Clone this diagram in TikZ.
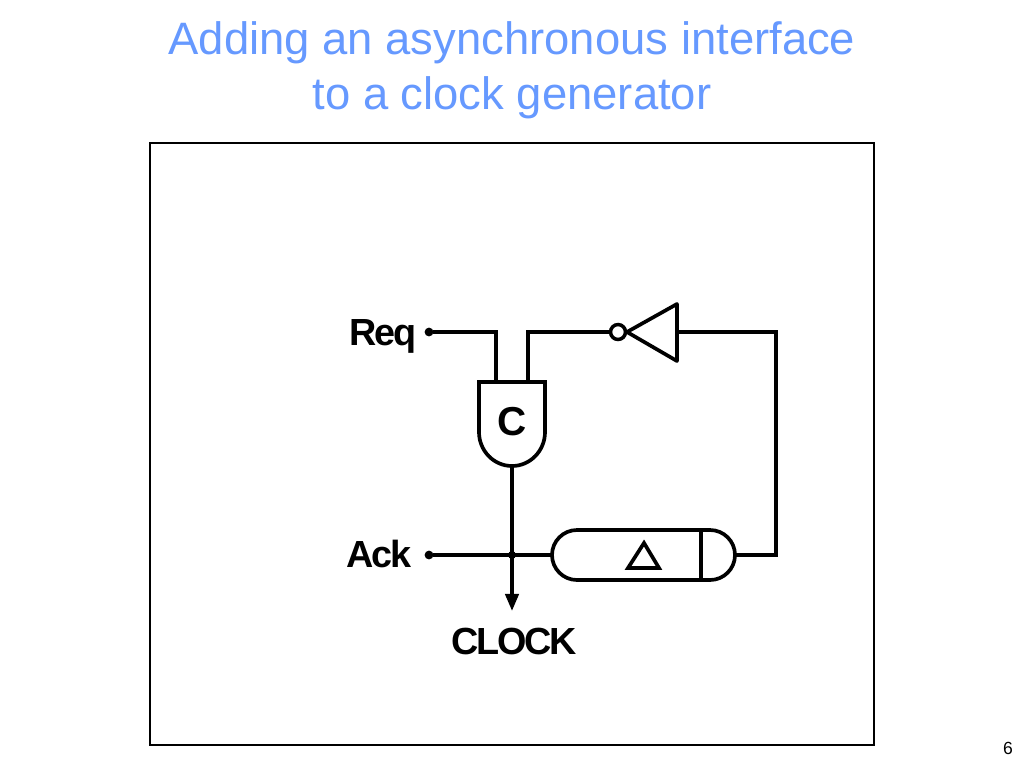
\documentclass[tikz,border=0pt]{standalone}
\usepackage{fontspec}
\setmainfont{Liberation Sans}
\newfontfamily\labelfamily[LetterSpace=-6]{Liberation Sans}
\usepackage{xcolor}
\usetikzlibrary{arrows.meta}
\definecolor{titleblue}{RGB}{102,153,255}
\tikzset{
	wire/.style={line width=2.1pt, line join=miter},
	pin/.style={circle, fill=black, inner sep=0pt, outer sep=0pt, minimum size=5pt},
	bubble/.style={circle, draw, line width=2pt, fill=white, inner sep=0pt, minimum size=8.5pt},
	boldlabel/.style={font=\labelfamily\bfseries\fontsize{21.5}{21.5}\selectfont},
}
\begin{document}
\begin{tikzpicture}[x=0.02cm, y=-0.02cm]
	\useasboundingbox (0,0) rectangle (1024,768);
	\node[titleblue, align=center, font=\fontsize{25.85}{31.3}\selectfont] (title) at (512,70) {Adding an asynchronous interface\\to a clock generator};
	\draw[line width=1.1pt] (150,143) rectangle (874,745);
	\node[font=\fontsize{10}{10}\selectfont] (pagenum) at (1008,748) {6};
	% terminals
	\node[pin] (req) at (429,332) {};
	\node[pin] (ack) at (429,555) {};
	\node[pin, minimum size=4.5pt] (junction) at (512,555) {};
	\node[boldlabel, anchor=base east, inner xsep=0pt] (reqlabel) at (416.5,345) {Req};
	\node[boldlabel, anchor=base east, inner xsep=0pt] (acklabel) at (411.5,567) {Ack};
	\node[boldlabel, anchor=base] (clocklabel) at (514,654) {CLOCK};
	% C element
	\coordinate (cin1) at (496,382);
	\coordinate (cin2) at (528,382);
	\coordinate (cout) at (512,466);
	\draw[wire] (479,382) -- (545,382) -- (545,432) arc[start angle=0, end angle=180, x radius=33, y radius=34] -- cycle;
	\node[font=\bfseries\fontsize{23}{23}\selectfont] (clabel) at (512.5,422) {C};
	% inverter
	\node[bubble] (inv) at (618,332) {};
	\coordinate (invin) at (677,332);
	\draw[wire, line join=round] (627,332) -- (677,304) -- (677,361) -- cycle;
	% delay box
	\coordinate (boxin) at (552,555);
	\coordinate (boxout) at (735,555);
	\coordinate (clockend) at (512,611);
	\draw[wire] (577,530) -- (710,530) arc[start angle=90, end angle=-90, x radius=25, y radius=-25] -- (577,580) arc[start angle=270, end angle=90, x radius=25, y radius=-25] -- cycle;
	\draw[wire] (701,530) -- (701,580);
	\draw[wire] (644,543) -- (659,568) -- (628,568) -- cycle;
	% wires
	\draw[wire] (req) -- (496,332) -- (cin1);
	\draw[wire] (cin2) -- (528,332) -- (inv);
	\draw[wire] (invin) -- (776,332) -- (776,555) -- (boxout);
	\draw[wire] (ack) -- (boxin);
	\draw[wire, -{Triangle[length=9.7pt, width=7.5pt]}] (cout) -- (clockend);
\end{tikzpicture}
\end{document}
